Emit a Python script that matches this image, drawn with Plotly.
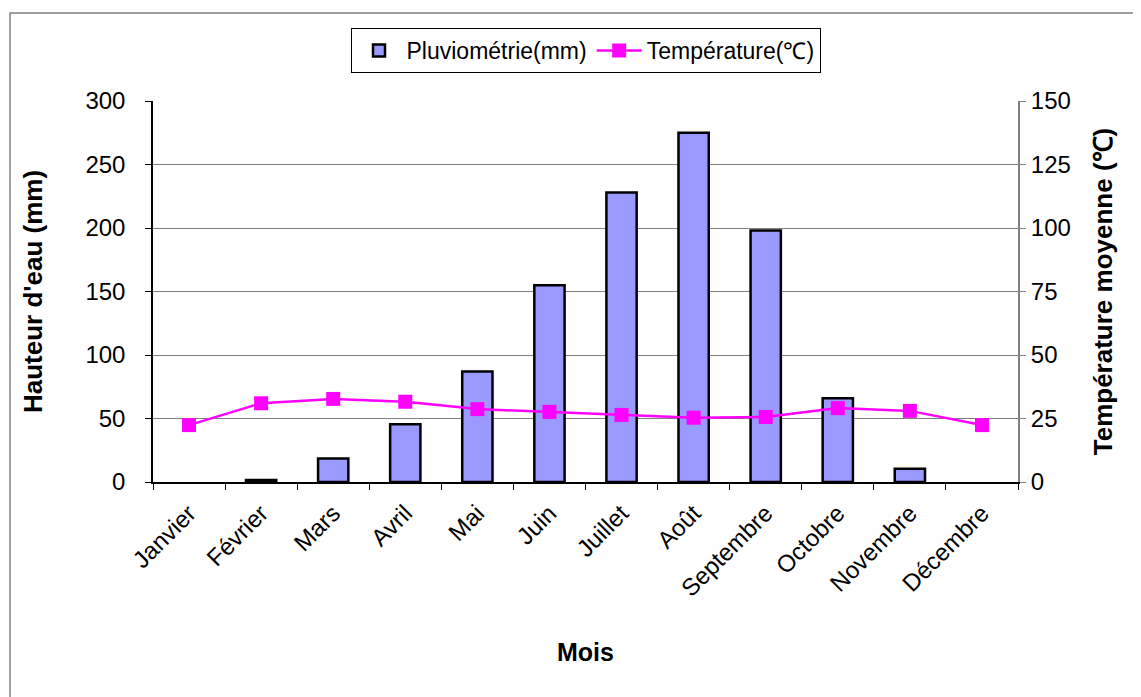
import plotly.graph_objects as go

mois = ["Janvier", "Février", "Mars", "Avril", "Mai", "Juin", "Juillet",
        "Août", "Septembre", "Octobre", "Novembre", "Décembre"]
pluviometrie = [0, 1.5, 18.5, 45.5, 87, 155, 228, 275, 198, 66, 10.5, 0]
temperature = [22.4, 31.0, 32.7, 31.6, 28.7, 27.6, 26.4, 25.3, 25.6, 29.1, 28.0, 22.4]

left_ticks = [0, 50, 100, 150, 200, 250, 300]
right_ticks = [0, 25, 50, 75, 100, 125, 150]

FONT = "Arial, Liberation Sans, sans-serif"
BAR_FILL = "#9999ff"

# no outline on empty (zero-height) bars
bar_outline = [0 if v == 0 else 2.5 for v in pluviometrie]

fig = go.Figure()
fig.add_trace(go.Bar(
    x=mois, y=pluviometrie, name="Pluviométrie(mm)",
    marker=dict(color=BAR_FILL, line=dict(color="black", width=bar_outline)),
    width=0.42, yaxis="y", legendgroup="pluie", showlegend=False,
))
# legend entry for the bars (uniform outline)
fig.add_trace(go.Bar(
    x=[None], y=[None], name="Pluviométrie(mm)",
    marker=dict(color=BAR_FILL, line=dict(color="black", width=2.5)),
    yaxis="y", legendgroup="pluie", showlegend=True,
))
fig.add_trace(go.Scatter(
    x=mois, y=temperature, name="Température(℃)", mode="lines+markers",
    line=dict(color="#ff00ff", width=2.5),
    marker=dict(symbol="square", size=14, color="#ff00ff"),
    yaxis="y2",
))

fig.update_layout(
    width=1141, height=697,
    margin=dict(l=145, r=131, t=93, b=223),
    paper_bgcolor="white", plot_bgcolor="white",
    font=dict(family=FONT, size=24, color="black"),
    showlegend=True,
    barmode="overlay",
    legend=dict(
        orientation="h", x=0.5, xanchor="center", y=1.1916, yanchor="top",
        bordercolor="black", borderwidth=1, font=dict(size=23),
        bgcolor="white", traceorder="normal", itemwidth=45,
    ),
    xaxis=dict(
        type="category", range=[-0.5, len(mois) - 0.5],
        tickangle=-45, tickson="boundaries",
        ticks="outside", ticklen=6, tickcolor="black",
        showline=True, linecolor="black", linewidth=1.5,
        showgrid=False, ticklabelstandoff=6,
        tickfont=dict(size=24),
        title=dict(text="<b>Mois</b>", font=dict(size=25), standoff=43),
    ),
    yaxis=dict(
        range=[0, 300], tickvals=left_ticks, ticks="outside", ticklen=6,
        tickcolor="black", showline=True, linecolor="black", linewidth=1.5,
        showgrid=True, gridcolor="#808080", gridwidth=1,
        zeroline=False, tickfont=dict(size=24), ticklabelstandoff=15,
        title=dict(text="<b>Hauteur d'eau (mm)</b>", font=dict(size=26), standoff=35),
    ),
    yaxis2=dict(
        range=[0, 150], tickvals=right_ticks, overlaying="y", side="right",
        ticks="outside", ticklen=6, tickcolor="#808080",
        showline=True, linecolor="#808080", linewidth=2,
        showgrid=False, zeroline=False, tickfont=dict(size=24),
        ticklabelstandoff=0,
        title=dict(text="<b>Température moyenne (℃)</b>", font=dict(size=26), standoff=24),
    ),
    shapes=[dict(
        type="rect", xref="paper", yref="paper",
        x0=-0.1653, x1=1.2, y0=-0.6, y1=1.231,
        line=dict(color="#808080", width=1.5), fillcolor="rgba(0,0,0,0)",
        layer="below",
    )],
)

fig.write_html("out.html")
